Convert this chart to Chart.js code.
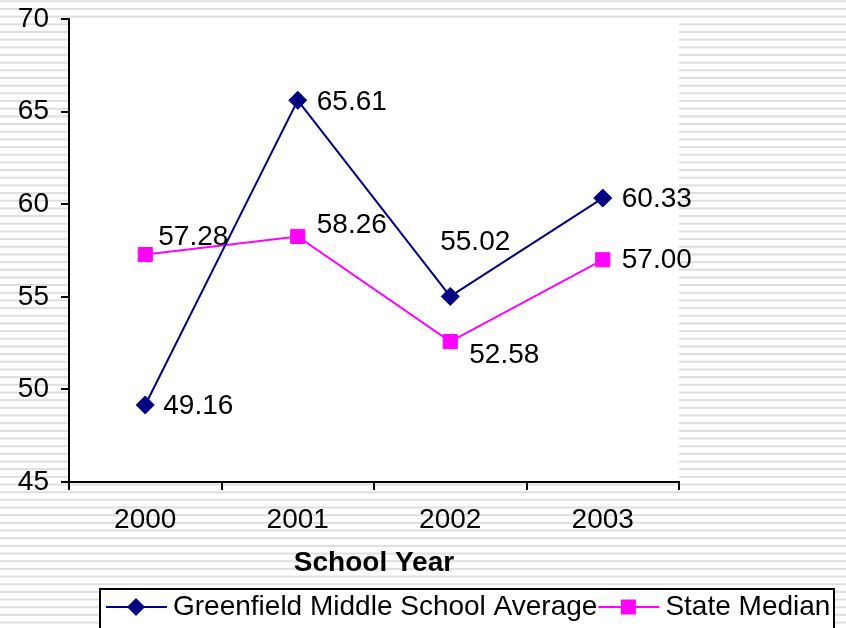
<!DOCTYPE html>
<html><head><meta charset="utf-8">
<script src="https://cdn.jsdelivr.net/npm/chart.js@4/dist/chart.umd.min.js"></script>
<style>html,body{margin:0;padding:0;background:#fff;overflow:hidden}canvas{display:block}</style>
</head><body>
<canvas id="c" width="846" height="628"></canvas>
<script>
const years = ['2000', '2001', '2002', '2003'];
const greenfield = [49.16, 65.61, 55.02, 60.33];
const stateMedian = [57.28, 58.26, 52.58, 57.00];
const seriesNames = ['Greenfield Middle School Average', 'State Median'];
const yMin = 45, yMax = 70, yStep = 5;
const xTitle = 'School Year';

const FONT = '"Liberation Sans", Arial, sans-serif';
const NAVY = '#000080', MAGENTA = '#FF00FF';

// label placement (style only): [dx, dy, align]
const labelPlacement = [
  [[18, 1, 'left'], [19, 2, 'left'], [25, -54, 'center'], [19, 1, 'left']],
  [[13, -17, 'left'], [19, -11, 'left'], [19, 14, 'left'], [19, 1, 'left']]
];

const stripes = {
  id: 'stripes',
  beforeDraw(chart) {
    const { ctx, chartArea: a, width, height } = chart;
    ctx.save();
    ctx.fillStyle = '#fff';
    ctx.fillRect(0, 0, width, height);
    ctx.fillStyle = '#dedede';
    for (let y = 0.3; y < height; y += 7.67) ctx.fillRect(0, y, width, 2);
    ctx.fillStyle = '#fff';
    ctx.fillRect(a.left, a.top, a.right - a.left, a.bottom - a.top);
    ctx.restore();
  }
};

const dataLabels = {
  id: 'dataLabels',
  afterDatasetsDraw(chart) {
    const ctx = chart.ctx;
    ctx.save();
    ctx.font = '28px ' + FONT;
    ctx.fillStyle = '#000';
    ctx.textBaseline = 'middle';
    chart.data.datasets.forEach((ds, i) => {
      chart.getDatasetMeta(i).data.forEach((pt, j) => {
        const [dx, dy, al] = labelPlacement[i][j];
        ctx.textAlign = al;
        ctx.fillText(ds.data[j].toFixed(2), pt.x + dx, pt.y + dy);
      });
    });
    ctx.restore();
  }
};

const legendBox = {
  id: 'legendBox',
  afterDraw(chart) {
    const ctx = chart.ctx;
    ctx.save();
    const bx = 100, by = 589, bw = 734, bh = 60;
    ctx.fillStyle = '#fff';
    ctx.fillRect(bx, by, bw, bh);
    ctx.strokeStyle = '#000';
    ctx.lineWidth = 2;
    ctx.strokeRect(bx, by, bw, bh);
    ctx.font = '28px ' + FONT;
    ctx.textBaseline = 'middle';
    ctx.textAlign = 'left';
    const cy = 607;
    let x = 106;
    chart.data.datasets.forEach((ds, i) => {
      ctx.strokeStyle = ds.borderColor;
      ctx.lineWidth = 2;
      ctx.beginPath(); ctx.moveTo(x, cy); ctx.lineTo(x + 61, cy); ctx.stroke();
      const mx = x + 30;
      ctx.fillStyle = ds.borderColor;
      ctx.beginPath();
      if (i === 0) {
        ctx.moveTo(mx - 9, cy); ctx.lineTo(mx, cy - 9); ctx.lineTo(mx + 9, cy); ctx.lineTo(mx, cy + 9);
        ctx.closePath();
      } else {
        ctx.rect(mx - 7.5, cy - 7.5, 15, 15);
      }
      ctx.fill();
      ctx.fillStyle = '#000';
      ctx.fillText(ds.label, x + 67, cy);
      x = x + 67 + ctx.measureText(ds.label).width + 1;
    });
    ctx.restore();
  }
};

new Chart(document.getElementById('c'), {
  type: 'line',
  data: {
    labels: years,
    datasets: [
      { label: seriesNames[0], data: greenfield, borderColor: NAVY, backgroundColor: NAVY,
        borderWidth: 2, pointStyle: 'rectRot', pointRadius: 9, pointBorderWidth: 1, tension: 0, clip: false },
      { label: seriesNames[1], data: stateMedian, borderColor: MAGENTA, backgroundColor: MAGENTA,
        borderWidth: 2, pointStyle: 'rect', pointRadius: 10, pointBorderWidth: 1, tension: 0, clip: false }
    ]
  },
  options: {
    responsive: false,
    animation: false,
    layout: { padding: { top: 19, right: 167, left: 0, bottom: 0 } },
    plugins: { legend: { display: false }, tooltip: { enabled: false } },
    scales: {
      x: {
        type: 'category', offset: true,
        grid: { offset: true, drawOnChartArea: false, drawTicks: true, tickLength: 8, color: '#000', lineWidth: 2 },
        border: { display: true, color: '#000', width: 2 },
        ticks: { font: { size: 28, family: FONT }, color: '#000', padding: 13, maxRotation: 0 },
        title: { display: true, text: xTitle, color: '#000', font: { size: 28, weight: 'bold', family: FONT }, padding: { top: 4, bottom: 48 } },
        afterFit(s) { s.height = 146; s.paddingLeft = 0; s.paddingRight = 0; }
      },
      y: {
        min: yMin, max: yMax,
        ticks: { stepSize: yStep, font: { size: 28, family: FONT }, color: '#000', padding: 12 },
        grid: { drawOnChartArea: false, drawTicks: true, tickLength: 8, color: '#000', lineWidth: 2 },
        border: { display: true, color: '#000', width: 2 },
        afterFit(s) { s.width = 69; s.paddingTop = 0; s.paddingBottom = 0; }
      }
    }
  },
  plugins: [stripes, dataLabels, legendBox]
});
</script>
</body></html>
